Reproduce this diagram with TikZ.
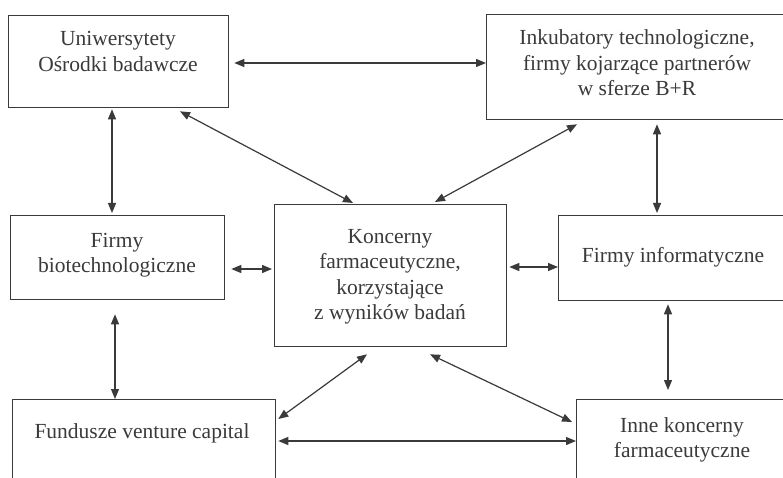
\documentclass[tikz,border=0pt]{standalone}
\usepackage{fontspec}
\setmainfont{Liberation Serif}
\usetikzlibrary{arrows.meta,calc}
\newcommand{\mlines}[1]{\begin{tabular}[t]{@{}c@{}}#1\end{tabular}}
\definecolor{ink}{HTML}{3A3A3A}
\tikzset{
  box/.style={draw=ink, line width=1.3pt, rectangle, inner sep=0pt, anchor=north west},
  txt/.style={text=ink, inner sep=0pt, anchor=base, font={\fontsize{21.5}{25.5}\selectfont}},
  link/.style={draw=ink, line width=1.2pt, {Triangle[length=10pt,width=8pt]}-{Triangle[length=10pt,width=8pt]}}
}
\begin{document}
\begin{tikzpicture}[x=1pt,y=-1pt]
\useasboundingbox (0,0) rectangle (783,478);
\fill[white] (0,0) rectangle (783,478);
\clip (0,0) rectangle (783,478);
% boxes
\node[box, minimum width=220, minimum height=92]  (uni) at (8,15) {};
\node[box, minimum width=320, minimum height=105] (inc) at (486,14) {};
\node[box, minimum width=214, minimum height=84]  (bio) at (10,215) {};
\node[box, minimum width=232, minimum height=142] (kon) at (274,204) {};
\node[box, minimum width=250, minimum height=85]  (inf) at (558,215) {};
\node[box, minimum width=263, minimum height=100] (fun) at (12,399) {};
\node[box, minimum width=230, minimum height=100] (inn) at (576,399) {};
% texts
\node[txt] (unit) at (118,46) {\mlines{Uniwersytety\\Ośrodki badawcze}};
\node[txt] (inct) at (637,45) {\mlines{Inkubatory technologiczne,\\firmy kojarzące partnerów\\w sferze B+R}};
\node[txt] (biot) at (117,247) {\mlines{Firmy\\biotechnologiczne}};
\node[txt] (kont) at (390,243) {\mlines{Koncerny\\farmaceutyczne,\\korzystające\\z wyników badań}};
\node[txt] (inft) at (673,262) {Firmy informatyczne};
\node[txt] (funt) at (142,438) {Fundusze venture capital};
\node[txt] (innt) at (682,432) {\mlines{Inne koncerny\\farmaceutyczne}};
% connectors
\draw[link] ($(uni.north east)+(5,48)$) -- ($(inc.north west)+(0,49)$);
\draw[link] ($(uni.south west)+(104,1)$) -- ($(bio.north west)+(102,-2)$);
\draw[link] ($(uni.south west)+(172,3)$) -- ($(kon.north west)+(79,-1)$);
\draw[link] ($(inc.south west)+(91,4)$) -- ($(kon.north west)+(161,-2)$);
\draw[link] ($(inc.south west)+(171,4)$) -- ($(inf.north west)+(99,-2)$);
\draw[link] ($(bio.north east)+(6,54)$) -- ($(kon.north west)+(-2,65)$);
\draw[link] ($(kon.north east)+(2,63)$) -- ($(inf.north west)+(0,52)$);
\draw[link] ($(bio.south west)+(105,14)$) -- ($(fun.north west)+(103,0)$);
\draw[link] ($(kon.south west)+(93,7)$) -- ($(fun.north east)+(2,20)$);
\draw[link] ($(kon.south west)+(156,7)$) -- ($(inn.north west)+(-4,23)$);
\draw[link] ($(inf.south west)+(110,3)$) -- ($(inn.north west)+(92,-9)$);
\draw[link] ($(fun.north east)+(2,42)$) -- ($(inn.north west)+(0,42)$);
\end{tikzpicture}
\end{document}
